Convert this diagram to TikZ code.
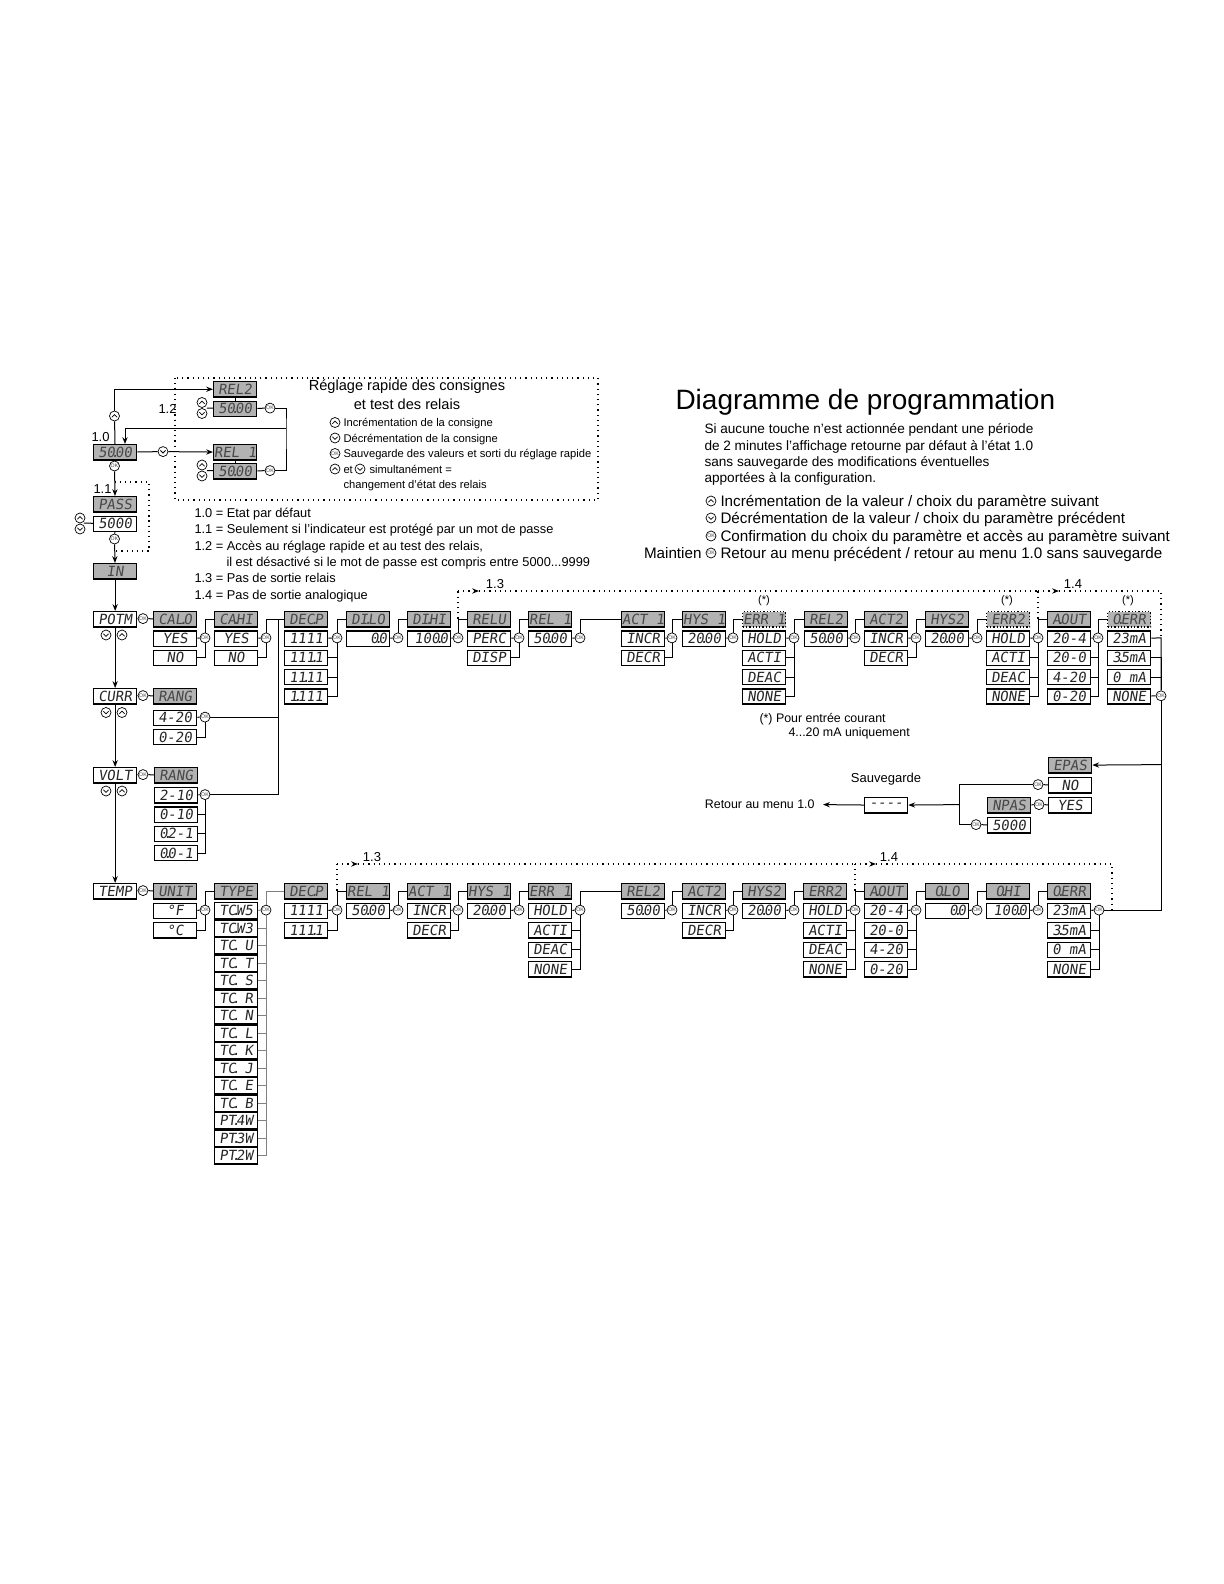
\documentclass[tikz,border=0pt]{standalone}
\usepackage{fontspec}
\setmainfont{Liberation Sans}
\newfontfamily\lcdfam[FakeSlant=0.14]{DejaVu Sans Mono}
\usetikzlibrary{arrows.meta}
\newcommand\lcdtxt{\lcdfam\fontsize{7}{7}\selectfont}
\newcommand\fsz[1]{\fontsize{#1}{#1}\selectfont}
\newcommand\pnt{\kern-0.3em.\kern-0.3em}

\begin{document}
\begin{tikzpicture}[x=0.5pt, y=-0.5pt, line width=0.5pt,
  >={Stealth[length=3.4pt,width=2.6pt]},
  box/.style={draw, line width=0.65pt, minimum width=21.5pt, minimum height=7.6pt,
    inner sep=0pt, anchor=north west, font=\lcdtxt, text=black!85},
  hdr/.style={box, fill=black!30, text=black!72},
  opt/.style={box, fill=white},
  optr/.style={opt, text width=19pt, align=right},
  errhdr/.style={hdr, densely dotted},
  typ/.style={opt, minimum height=8.1pt},
  ok/.style={circle, draw, line width=0.35pt, minimum size=5pt, inner sep=0pt,
    fill=white, font=\fsz{2.6}, text=black!75},
  keyup/.style={circle, draw, line width=0.35pt, minimum size=5pt, inner sep=0pt, fill=white,
    path picture={\draw[line width=0.4pt] ([shift={(-1.3pt,-0.6pt)}]path picture bounding box.center)
      -- ++(1.3pt,1.3pt) -- ++(1.3pt,-1.3pt);}},
  keydn/.style={circle, draw, line width=0.35pt, minimum size=5pt, inner sep=0pt, fill=white,
    path picture={\draw[line width=0.4pt] ([shift={(-1.3pt,0.6pt)}]path picture bounding box.center)
      -- ++(1.3pt,-1.3pt) -- ++(1.3pt,1.3pt);}},
  txt/.style={inner sep=0pt, anchor=base west},
  dots/.style={dotted, line width=0.6pt}]
\useasboundingbox (0,0) rectangle (1224,1584);

% titre et consignes generales
\node[txt, font=\fsz{14}] (ttl) at (675,409) {Diagramme de programmation};
\node[txt, font=\fsz{6.8}] (p1) at (704,433.8) {Si aucune touche n'est actionnée pendant une période};
\node[txt, font=\fsz{6.8}] (p2) at (704,450.1) {de 2 minutes l'affichage retourne par défaut à l'état 1.0};
\node[txt, font=\fsz{6.8}] (p3) at (704,466.4) {sans sauvegarde des modifications éventuelles};
\node[txt, font=\fsz{6.8}] (p4) at (704,482.8) {apportées à la configuration.};
\node[keyup] (lu) at (711,501) {};
\node[keydn] (ld) at (711,518) {};
\node[ok] (lk1) at (711,536) {OK};
\node[ok] (lk2) at (711,553) {OK};
\node[txt, font=\fsz{7.6}] (l1) at (720,506.5) {Incrémentation de la valeur / choix du paramètre suivant};
\node[txt, font=\fsz{7.6}] (l2) at (720,523.5) {Décrémentation de la valeur / choix du paramètre précédent};
\node[txt, font=\fsz{7.6}] (l3) at (720,541.5) {Confirmation du choix du paramètre et accès au paramètre suivant};
\node[txt, font=\fsz{7.6}] (l4) at (720,558.5) {Retour au menu précédent / retour au menu 1.0 sans sauvegarde};
\node[txt, font=\fsz{7.6}, anchor=base east] (mnt) at (702,558.5) {Maintien};

% reglage rapide
\draw[dots] (175,378) rectangle (598,500);
\node[font=\fsz{7.3}, inner sep=0pt] (bt1) at (407,387) {Réglage rapide des consignes};
\node[font=\fsz{7.3}, inner sep=0pt] (bt2) at (407,404) {et test des relais};
\node[keyup] (bu1) at (335,422.5) {};
\node[keydn] (bd1) at (335,438) {};
\node[ok] (bk1) at (335,453.5) {OK};
\node[keyup] (bu2) at (335,469) {};
\node[keydn] (bd2) at (360,469) {};
\node[txt, font=\fsz{5.6}] (b1) at (343,426.5) {Incrémentation de la consigne};
\node[txt, font=\fsz{5.6}] (b2) at (343,442) {Décrémentation de la consigne};
\node[txt, font=\fsz{5.6}] (b3) at (343,457.5) {Sauvegarde des valeurs et sorti du réglage rapide};
\node[txt, font=\fsz{5.6}] (b4) at (343,473) {et};
\node[txt, font=\fsz{5.6}] (b5) at (369,473) {simultanément =};
\node[txt, font=\fsz{5.6}] (b6) at (343,488.5) {changement d'état des relais};

\node[txt, font=\fsz{6.5}] (n10) at (91,441.5) {1.0};
\node[txt, font=\fsz{6.5}] (n11) at (93,493.5) {1.1};
\node[txt, font=\fsz{6.5}] (n12) at (158,413.5) {1.2};
\node[hdr] (def) at (93,444) {50\pnt00};
\node[hdr] (rq2) at (213,381) {REL2};
\node[hdr] (rv2) at (213,400.5) {50\pnt00};
\node[hdr] (rq1) at (213,444) {REL 1};
\node[hdr] (rv1) at (213,463) {50\pnt00};
\node[keyup] (qu2) at (202,402.5) {};
\node[keydn] (qd2) at (202,413.5) {};
\node[keyup] (qu1) at (202,465) {};
\node[keydn] (qd1) at (202,476) {};
\coordinate (qk2) at (207,408.1);
\coordinate (qk1) at (207,470.6);
\node[ok] (kq2) at (270,408.1) {OK};
\node[ok] (kq1) at (270,470.6) {OK};
\coordinate (qr) at (286,428);
\coordinate (qd) at (125,444);
\node[keyup] (ku0) at (114.5,416) {};
\node[keydn] (kd0) at (163,451.6) {};
\node[ok] (kp1) at (114.5,466) {OK};
\node[hdr] (pass) at (93,496) {PASS};
\node[opt] (passv) at (93,515.5) {5000};
\node[keyup] (pu) at (80,518) {};
\node[keydn] (pd) at (80,529) {};
\coordinate (pk) at (84,523.1);
\node[ok] (kp2) at (114.5,539) {OK};
\node[hdr] (inb) at (93,563) {IN};
\draw (rq2) -- (rv2);
\draw (rq1) -- (rv1);
\draw (qk2) -- (rv2);
\draw (qk1) -- (rv1);
\draw (rv2) -- (kq2);
\draw (rv1) -- (kq1);
\draw (kq2) -| (qr) |- (kq1);
\draw[->] (qr) -| (qd);
\draw (def) -- (ku0);
\draw[->] (ku0) |- (rq2);
\draw (def) -- (kd0);
\draw[->] (kd0) -- (rq1);
\draw (def) -- (kp1);
\draw[->] (kp1) -- (pass);
\draw (pk) -- (passv);
\draw (passv) -- (kp2);
\draw[->] (kp2) -- (inb);
\coordinate (bp1) at (114.5,482);
\coordinate (bp2) at (114.5,551);
\coordinate (bpr) at (149,516);
\draw[dots] (bp1) -| (bpr) |- (bp2);

\node[txt, font=\fsz{6.4}] (e10) at (194,517.3) {1.0 = Etat par défaut};
\node[txt, font=\fsz{6.4}] (e11) at (194,533.7) {1.1 = Seulement si l'indicateur est protégé par un mot de passe};
\node[txt, font=\fsz{6.4}] (e12) at (194,550.1) {1.2 = Accès au réglage rapide et au test des relais,};
\node[txt, font=\fsz{6.4}] (e12b) at (226,566.5) {il est désactivé si le mot de passe est compris entre 5000...9999};
\node[txt, font=\fsz{6.4}] (e13) at (194,582.9) {1.3 = Pas de sortie relais};
\node[txt, font=\fsz{6.4}] (e14) at (194,599.3) {1.4 = Pas de sortie analogique};

% menu principal
\node[opt] (potm) at (93,611) {POTM};
\node[opt] (curr) at (93,688) {CURR};
\node[opt] (volt) at (93,767) {VOLT};
\node[opt] (temp) at (93,883) {TEMP};
\draw[->] (inb) -- (potm);
\draw[->] (potm) -- (curr);
\draw[->] (curr) -- (volt);
\draw[->] (volt) -- (temp);
\foreach \y [count=\i] in {635,712.5,791} {
  \node[keydn] (md\i) at (106,\y) {};
  \node[keyup] (mu\i) at (122,\y) {};
}

% ligne POTM
\node[ok] (k0) at (143,618.6) {OK};
\node[hdr] (calo) at (153,611) {CAL\pnt O};
\node[hdr] (cahi) at (214,611) {CA\pnt HI};
\node[hdr] (decp) at (284,611) {DEC\pnt P};
\node[hdr] (dilo) at (346,611) {DI\pnt LO};
\node[hdr] (dihi) at (407,611) {DI\pnt HI};
\node[hdr] (relu) at (467,611) {RELU};
\node[hdr] (rela) at (528,611) {REL 1};
\node[hdr] (acta) at (621,611) {ACT 1};
\node[hdr] (hysa) at (682,611) {HYS 1};
\node[errhdr] (erra) at (742,611) {ERR 1};
\node[hdr] (relb) at (804,611) {REL2};
\node[hdr] (actb) at (864,611) {ACT2};
\node[hdr] (hysb) at (925,611) {HYS2};
\node[errhdr] (errb) at (986,611) {ERR2};
\node[hdr] (aout) at (1047,611) {A\pnt OUT};
\node[errhdr] (oerr) at (1107,611) {O\pnt ERR};
\foreach \txt [count=\i] in {YES,NO} \node[opt] (calo-\i) at (153,611+19.3*\i) {\txt};
\foreach \txt [count=\i] in {YES,NO} \node[opt] (cahi-\i) at (214,611+19.3*\i) {\txt};
\foreach \txt [count=\i] in {1111,111\pnt1,11\pnt11,1\pnt111} \node[opt] (decp-\i) at (284,611+19.3*\i) {\txt};
\node[optr] (dilo-1) at (346,630.3) {0\pnt0};
\node[optr] (dihi-1) at (407,630.3) {100\pnt0};
\foreach \txt [count=\i] in {PERC,DISP} \node[opt] (relu-\i) at (467,611+19.3*\i) {\txt};
\node[opt] (rela-1) at (528,630.3) {50\pnt00};
\foreach \txt [count=\i] in {INCR,DECR} \node[opt] (acta-\i) at (621,611+19.3*\i) {\txt};
\node[opt] (hysa-1) at (682,630.3) {20\pnt00};
\foreach \txt [count=\i] in {HOLD,ACTI,DEAC,NONE} \node[opt] (erra-\i) at (742,611+19.3*\i) {\txt};
\node[opt] (relb-1) at (804,630.3) {50\pnt00};
\foreach \txt [count=\i] in {INCR,DECR} \node[opt] (actb-\i) at (864,611+19.3*\i) {\txt};
\node[opt] (hysb-1) at (925,630.3) {20\pnt00};
\foreach \txt [count=\i] in {HOLD,ACTI,DEAC,NONE} \node[opt] (errb-\i) at (986,611+19.3*\i) {\txt};
\foreach \txt [count=\i] in {20-4,20-0,4-20,0-20} \node[opt] (aout-\i) at (1047,611+19.3*\i) {\txt};
\foreach \txt [count=\i] in {23mA,3\pnt5mA,0 mA,NONE} \node[opt] (oerr-\i) at (1107,611+19.3*\i) {\txt};
\foreach \x [count=\i] in {205,266,337,398,458,519,580,672,733,794,855,916,977,1038,1098}
  \node[ok] (ka\i) at (\x,637.9) {OK};
\node[ok] (ka16) at (1161,695.8) {OK};
\node[font=\fsz{5.5}, inner sep=0pt] (sa) at (764,601) {(*)};
\node[font=\fsz{5.5}, inner sep=0pt] (sb) at (1007,601) {(*)};
\node[font=\fsz{5.5}, inner sep=0pt] (sc) at (1128,601) {(*)};
\draw (potm) -- (k0) -- (calo);
\foreach \col/\okn in {calo/ka1,cahi/ka2,decp/ka3,dilo/ka4,dihi/ka5,relu/ka6,rela/ka7,acta/ka8,
  hysa/ka9,erra/ka10,relb/ka11,actb/ka12,hysb/ka13,errb/ka14,aout/ka15}
  \draw (\col-1) -- (\okn);
\foreach \col/\okn/\cnt in {calo/ka1/2,cahi/ka2/2,decp/ka3/4,relu/ka6/2,acta/ka8/2,erra/ka10/4,
  actb/ka12/2,errb/ka14/4,aout/ka15/4}
  \foreach \i in {2,...,\cnt} \draw (\col-\i.east) -| (\okn);
\foreach \okn/\nxt in {ka1/cahi,ka2/decp,ka3/dilo,ka4/dihi,ka5/relu,ka6/rela,ka7/acta,ka8/hysa,
  ka9/erra,ka10/relb,ka11/actb,ka12/hysb,ka13/errb,ka14/aout,ka15/oerr}
  \draw (\okn) |- (\nxt);
\node[txt, font=\fsz{6.2}] (nt1) at (759,722) {(*) Pour entrée courant};
\node[txt, font=\fsz{6.2}] (nt2) at (788,736) {4...20 mA uniquement};

% sorties 1.3 / 1.4 (ligne du haut)
\coordinate (d0) at (458,618.6);
\coordinate (da) at (458,591);
\coordinate (dat) at (479,591);
\coordinate (d1) at (1038,618.6);
\coordinate (db) at (1038,591);
\coordinate (dbt) at (1059,591);
\coordinate (dc) at (1161,591);
\coordinate (rt) at (1161,637.9);
\draw[dots] (d0) -- (da);
\draw[dots,->] (da) -- (dat);
\draw[dots] (dat) -- (db);
\draw[dots] (d1) -- (db);
\draw[dots,->] (db) -- (dbt);
\draw[dots] (dbt) -- (dc) -- (rt);
\node[font=\fsz{6.5}, inner sep=0pt] (la13) at (495,584) {1.3};
\node[font=\fsz{6.5}, inner sep=0pt] (la14) at (1073,584) {1.4};

% courant / tension
\node[ok] (kc0) at (143,695.6) {OK};
\node[hdr] (rangc) at (153,688) {RANG};
\node[opt] (rangc-1) at (153,709.5) {4-20};
\node[opt] (rangc-2) at (153,728.8) {0-20};
\node[ok] (kc1) at (205,717.1) {OK};
\node[ok] (kv0) at (143,774.6) {OK};
\node[hdr] (rangv) at (154,767) {RANG};
\foreach \txt [count=\i] in {2-10,0-10,0\pnt2-1,0\pnt0-1} \node[opt] (rangv-\i) at (154,767.7+19.3*\i) {\txt};
\node[ok] (kv1) at (205,794.6) {OK};
\coordinate (dj) at (278,618.6);
\draw (curr) -- (kc0) -- (rangc);
\draw (rangc-1) -- (kc1);
\draw (rangc-2.east) -| (kc1);
\draw (kc1) -| (dj);
\draw (volt) -- (kv0) -- (rangv);
\draw (rangv-1) -- (kv1);
\foreach \i in {2,3,4} \draw (rangv-\i.east) -| (kv1);
\draw (kv1) -| (dj);

% ligne TEMP
\node[ok] (kt0) at (143,890.6) {OK};
\node[hdr] (unit) at (153,883) {UNIT};
\node[hdr] (type) at (214,883) {TYPE};
\node[hdr] (decq) at (284,883) {DEC\pnt P};
\node[hdr] (relc) at (346,883) {REL 1};
\node[hdr] (actc) at (407,883) {ACT 1};
\node[hdr] (hysc) at (467,883) {HYS 1};
\node[hdr] (errc) at (528,883) {ERR 1};
\node[hdr] (reld) at (621,883) {REL2};
\node[hdr] (actd) at (682,883) {ACT2};
\node[hdr] (hysd) at (742,883) {HYS2};
\node[hdr] (errd) at (803,883) {ERR2};
\node[hdr] (aoutb) at (864,883) {A\pnt OUT};
\node[hdr] (olo) at (925,883) {O\pnt LO};
\node[hdr] (ohi) at (986,883) {O\pnt HI};
\node[hdr] (oerrb) at (1047,883) {O\pnt ERR};
\foreach \txt [count=\i] in {°F,°C} \node[opt] (unit-\i) at (153,883+19.5*\i) {\txt};
\foreach \txt [count=\i] in {TC\pnt W5,TC\pnt W3,TC\pnt{} U,TC\pnt{} T,TC\pnt{} S,TC\pnt{} R,TC\pnt{} N,
  TC\pnt{} L,TC\pnt{} K,TC\pnt{} J,TC\pnt{} E,TC\pnt{} B,PT\pnt 4W,PT\pnt 3W,PT\pnt 2W}
  \node[typ] (type-\i) at (214,884.5+17.5*\i) {\txt};
\foreach \txt [count=\i] in {1111,111\pnt1} \node[opt] (decq-\i) at (284,883+19.5*\i) {\txt};
\node[opt] (relc-1) at (346,902.5) {50\pnt00};
\foreach \txt [count=\i] in {INCR,DECR} \node[opt] (actc-\i) at (407,883+19.5*\i) {\txt};
\node[opt] (hysc-1) at (467,902.5) {20\pnt00};
\foreach \txt [count=\i] in {HOLD,ACTI,DEAC,NONE} \node[opt] (errc-\i) at (528,883+19.5*\i) {\txt};
\node[opt] (reld-1) at (621,902.5) {50\pnt00};
\foreach \txt [count=\i] in {INCR,DECR} \node[opt] (actd-\i) at (682,883+19.5*\i) {\txt};
\node[opt] (hysd-1) at (742,902.5) {20\pnt00};
\foreach \txt [count=\i] in {HOLD,ACTI,DEAC,NONE} \node[opt] (errd-\i) at (803,883+19.5*\i) {\txt};
\foreach \txt [count=\i] in {20-4,20-0,4-20,0-20} \node[opt] (aoutb-\i) at (864,883+19.5*\i) {\txt};
\node[optr] (olo-1) at (925,902.5) {0\pnt0};
\node[optr] (ohi-1) at (986,902.5) {100\pnt0};
\foreach \txt [count=\i] in {23mA,3\pnt5mA,0 mA,NONE} \node[opt] (oerrb-\i) at (1047,883+19.5*\i) {\txt};
\foreach \x [count=\i] in {205,266,337,398,458,519,580,672,733,794,855,916,977,1038,1099}
  \node[ok] (kt\i) at (\x,910.1) {OK};
\draw (temp) -- (kt0) -- (unit);
\draw[black!50] (type-1) -- (kt2);
\foreach \i in {2,...,15} \draw[black!50] (type-\i.east) -| (kt2);
\draw[black!50] (kt2) |- (decq);
\foreach \col/\okn in {unit/kt1,decq/kt3,relc/kt4,actc/kt5,hysc/kt6,errc/kt7,reld/kt8,actd/kt9,
  hysd/kt10,errd/kt11,aoutb/kt12,olo/kt13,ohi/kt14,oerrb/kt15}
  \draw (\col-1) -- (\okn);
\foreach \col/\okn/\cnt in {unit/kt1/2,decq/kt3/2,actc/kt5/2,errc/kt7/4,actd/kt9/2,errd/kt11/4,
  aoutb/kt12/4,oerrb/kt15/4}
  \foreach \i in {2,...,\cnt} \draw (\col-\i.east) -| (\okn);
\foreach \okn/\nxt in {kt1/type,kt3/relc,kt4/actc,kt5/hysc,kt6/errc,kt7/reld,kt8/actd,kt9/hysd,
  kt10/errd,kt11/aoutb,kt12/olo,kt13/ohi,kt14/oerrb}
  \draw (\okn) |- (\nxt);

% sorties 1.3 / 1.4 (ligne du bas)
\coordinate (f0) at (337,890.6);
\coordinate (fa) at (337,864);
\coordinate (fat) at (358,864);
\coordinate (f1) at (855,890.6);
\coordinate (fb) at (855,864);
\coordinate (fbt) at (876,864);
\coordinate (fc) at (1112,864);
\coordinate (fd) at (1112,910.1);
\draw[dots] (f0) -- (fa);
\draw[dots,->] (fa) -- (fat);
\draw[dots] (fat) -- (fb);
\draw[dots] (f1) -- (fb);
\draw[dots,->] (fb) -- (fbt);
\draw[dots] (fbt) -- (fc) -- (fd);
\node[font=\fsz{6.5}, inner sep=0pt] (lb13) at (372,857) {1.3};
\node[font=\fsz{6.5}, inner sep=0pt] (lb14) at (889,857) {1.4};

% retour et mot de passe
\coordinate (re) at (1161,764.6);
\coordinate (rb) at (1161,910.1);
\node[hdr] (epas) at (1048,757) {EPAS};
\node[opt] (pno) at (1048,777) {NO};
\node[opt] (pyes) at (1048,797) {YES};
\node[hdr] (npas) at (987,797) {NPAS};
\node[opt] (npv) at (987,817) {5000};
\node[opt] (save) at (864,797) {----};
\node[ok] (ke1) at (1038,784.6) {OK};
\node[ok] (ke2) at (1039,804.6) {OK};
\node[ok] (ke3) at (976,824.6) {OK};
\coordinate (sj) at (959,804.6);
\coordinate (ret) at (823,804.6);
\draw (oerr-1) -- (rt) -- (ka16);
\draw (oerr-2.east) -| (ka16);
\draw (oerr-3.east) -| (ka16);
\draw (oerr-4) -- (ka16);
\draw (ka16) -- (rb) -- (kt15);
\draw[->] (re) -- (epas);
\draw (pno) -- (ke1);
\draw (ke1) -| (sj);
\draw (ke3) -| (sj);
\draw (npas) -- (ke2) -- (pyes);
\draw (npv) -- (ke3);
\draw[->] (sj) -- (save);
\draw[->] (save) -- (ret);
\node[font=\fsz{6.5}, inner sep=0pt] (sav) at (886,779) {Sauvegarde};
\node[font=\fsz{6.2}, inner sep=0pt, anchor=east] (rtm) at (815,804.6) {Retour au menu 1.0};
\end{tikzpicture}
\end{document}
